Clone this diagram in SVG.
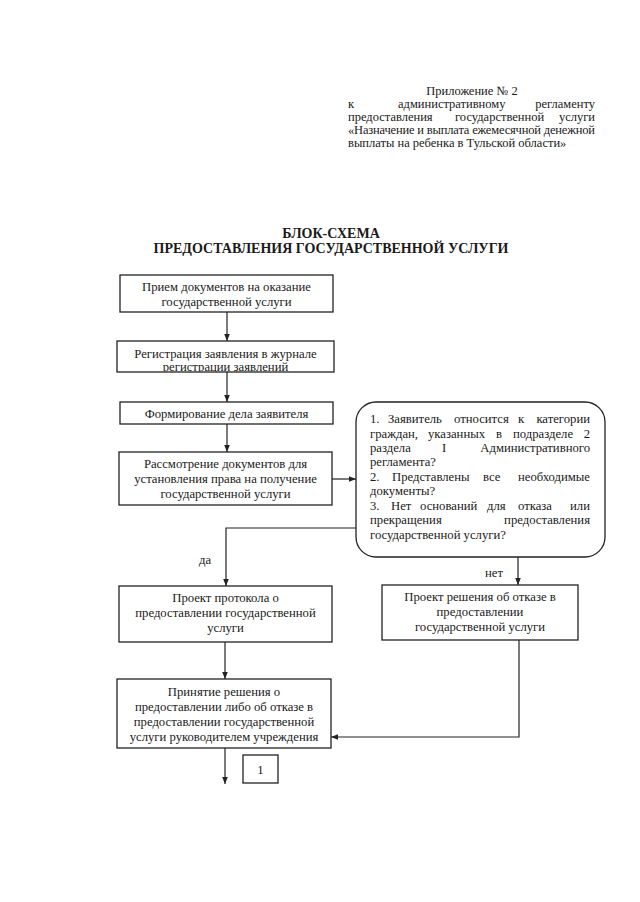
<svg xmlns="http://www.w3.org/2000/svg" width="640" height="902" viewBox="0 0 640 902">
<style>
text{font-family:"Liberation Serif","Times New Roman",serif;font-size:12.7px;fill:#1a1a1a}
.h{font-size:12.5px}
.t{font-size:14px;font-weight:bold}
.c{text-anchor:middle}
.e{text-anchor:end}
.box{fill:#fff;stroke:#222;stroke-width:1.3}
.ln{fill:none;stroke:#222;stroke-width:1.2}
</style>
<defs>
<marker id="ar" viewBox="0 0 8 8" refX="8" refY="4" markerWidth="7" markerHeight="7" markerUnits="userSpaceOnUse" orient="auto">
<path d="M0,0.8 L8,4 L0,7.2 Z" fill="#222"/>
</marker>
<clipPath id="clip2"><rect x="117" y="341" width="217" height="30.4"/></clipPath>
</defs>
<rect width="640" height="902" fill="#fff"/>

<g id="header">
<text class="h c" x="472" y="95">Приложение № 2</text>
<text class="h" x="348" y="108">к</text>
<text class="h" x="398" y="108">административному</text>
<text class="h e" x="595" y="108">регламенту</text>
<text class="h" x="348" y="121">предоставления</text>
<text class="h" x="455" y="121">государственной</text>
<text class="h e" x="595" y="121">услуги</text>
<text class="h" x="348" y="134" textLength="247" lengthAdjust="spacing">«Назначение и выплата ежемесячной денежной</text>
<text class="h" x="348" y="147">выплаты на ребенка в Тульской области»</text>
</g>

<g id="title">
<text class="t c" x="331" y="238">БЛОК-СХЕМА</text>
<text class="t c" x="331" y="253">ПРЕДОСТАВЛЕНИЯ ГОСУДАРСТВЕННОЙ УСЛУГИ</text>
</g>

<g id="connectors">
<path class="ln" d="M227,312 V341" marker-end="url(#ar)"/>
<path class="ln" d="M227,372 V402" marker-end="url(#ar)"/>
<path class="ln" d="M227,424 V452" marker-end="url(#ar)"/>
<path class="ln" d="M332,479 H356" marker-end="url(#ar)"/>
<path class="ln" d="M357,528 H226 V586" marker-end="url(#ar)"/>
<path class="ln" d="M518,557 V585" marker-end="url(#ar)"/>
<path class="ln" d="M519,640 V737 H331" marker-end="url(#ar)"/>
<path class="ln" d="M225,642 V679" marker-end="url(#ar)"/>
<path class="ln" d="M225,748 V784" marker-end="url(#ar)"/>
<text class="c" x="205" y="564">да</text>
<text class="c" x="494" y="577">нет</text>
</g>

<g id="n1">
<rect class="box" x="120" y="275" width="213" height="37"/>
<text class="c" x="226.5" y="291">Прием документов на оказание</text>
<text class="c" x="226.5" y="306">государственной услуги</text>
</g>

<g id="n2">
<rect class="box" x="117" y="341" width="217" height="31"/>
<text class="c" x="225.5" y="358">Регистрация заявления в журнале</text>
<text class="c" x="225.5" y="370.6" clip-path="url(#clip2)">регистрации заявлений</text>
</g>

<g id="n3">
<rect class="box" x="120" y="402" width="213" height="22"/>
<text class="c" x="226.5" y="418">Формирование дела заявителя</text>
</g>

<g id="n4">
<rect class="box" x="119" y="452" width="213" height="53"/>
<text class="c" x="225.5" y="468">Рассмотрение документов для</text>
<text class="c" x="225.5" y="483">установления права на получение</text>
<text class="c" x="225.5" y="498">государственной услуги</text>
</g>

<g id="n-check">
<rect class="box" x="356" y="402" width="249" height="155" rx="20" ry="20"/>
<text x="370" y="423">1.</text>
<text x="388" y="423">Заявитель</text>
<text x="454" y="423">относится</text>
<text x="518" y="423">к</text>
<text class="e" x="590" y="423">категории</text>
<text x="370" y="437.5">граждан,</text>
<text x="428" y="437.5">указанных</text>
<text x="496" y="437.5">в</text>
<text x="513" y="437.5">подразделе</text>
<text class="e" x="590" y="437.5">2</text>
<text x="370" y="452">раздела</text>
<text x="442" y="452">I</text>
<text class="e" x="590" y="452">Административного</text>
<text x="370" y="466">регламента?</text>
<text x="370" y="480.5">2.</text>
<text x="392" y="480.5">Представлены</text>
<text x="483" y="480.5">все</text>
<text class="e" x="590" y="480.5">необходимые</text>
<text x="370" y="495">документы?</text>
<text x="370" y="509.5">3.</text>
<text x="391" y="509.5">Нет</text>
<text x="420" y="509.5">оснований</text>
<text x="487" y="509.5">для</text>
<text x="518" y="509.5">отказа</text>
<text class="e" x="590" y="509.5">или</text>
<text x="370" y="524">прекращения</text>
<text class="e" x="590" y="524">предоставления</text>
<text x="370" y="538.5">государственной услуги?</text>
</g>

<g id="n5">
<rect class="box" x="119" y="586" width="213" height="56"/>
<text class="c" x="225.5" y="602">Проект протокола о</text>
<text class="c" x="225.5" y="617">предоставлении государственной</text>
<text class="c" x="225.5" y="632">услуги</text>
</g>

<g id="n6">
<rect class="box" x="382" y="585" width="196" height="55"/>
<text class="c" x="480" y="601">Проект решения об отказе в</text>
<text class="c" x="480" y="616">предоставлении</text>
<text class="c" x="480" y="631">государственной услуги</text>
</g>

<g id="n7">
<rect class="box" x="117" y="679" width="214" height="69"/>
<text class="c" x="224" y="696">Принятие решения о</text>
<text class="c" x="224" y="711">предоставлении либо об отказе в</text>
<text class="c" x="224" y="726">предоставлении государственной</text>
<text class="c" x="224" y="741">услуги руководителем учреждения</text>
</g>

<g id="n-page">
<rect class="box" x="243" y="755" width="35" height="28"/>
<text class="c" x="260.5" y="773.5">1</text>
</g>
</svg>
